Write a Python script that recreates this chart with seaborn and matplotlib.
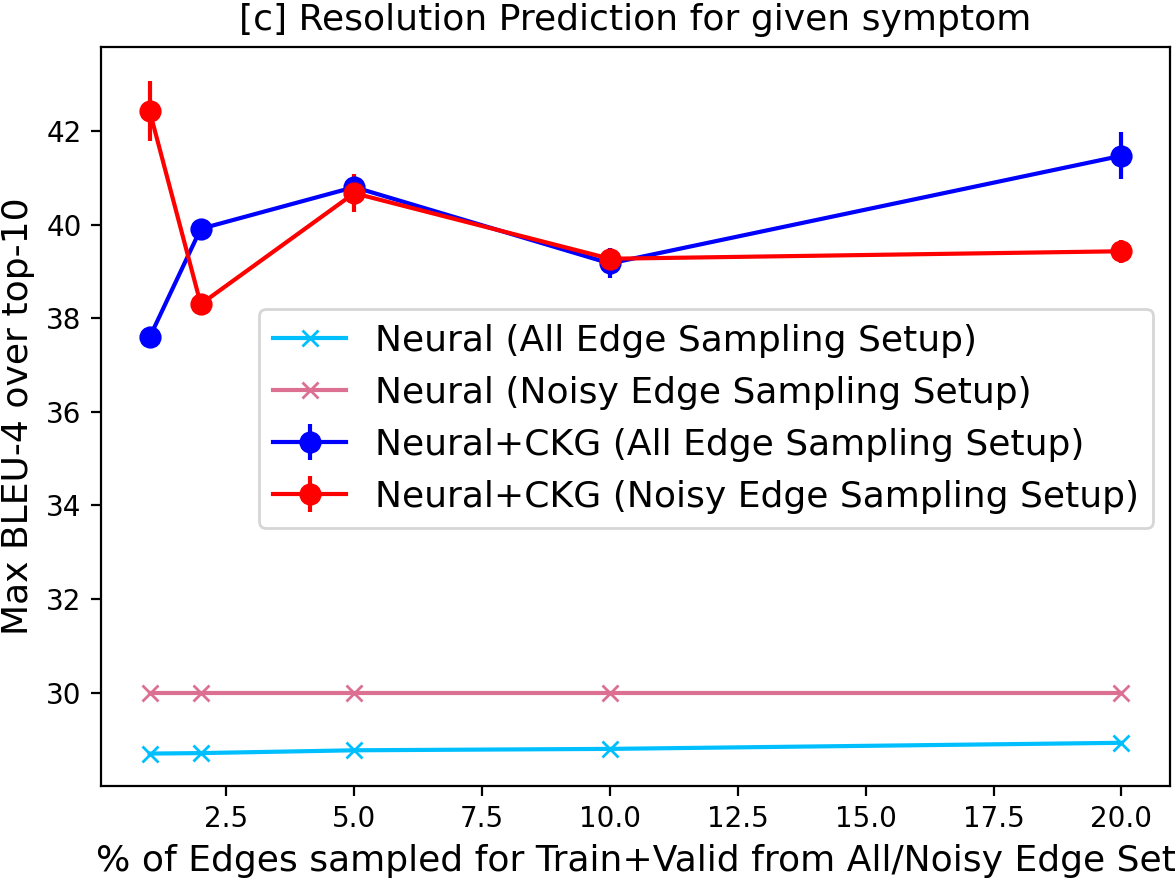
import numpy as np
import pandas as pd
import seaborn as sns
import matplotlib
matplotlib.use("Agg")
import matplotlib.pyplot as plt

pct_edges = [1, 2, 5, 10, 20]
neural_all = [28.70, 28.71, 28.77, 28.80, 28.93]
neural_noisy = [30.0, 30.0, 30.0, 30.0, 30.0]
ckg_all = [37.59, 39.91, 40.80, 39.17, 41.47]
ckg_all_err = [0.05, 0.10, 0.10, 0.32, 0.50]
ckg_noisy = [42.43, 38.30, 40.67, 39.27, 39.43]
ckg_noisy_err = [0.64, 0.10, 0.41, 0.10, 0.25]


def main():
    fig = plt.figure(figsize=(5.88, 4.415), dpi=200)
    ax = fig.add_axes([0.0859, 0.110, 0.909, 0.8366])

    df = pd.DataFrame({"x": pct_edges, "all": neural_all, "noisy": neural_noisy})

    sns.lineplot(data=df, x="x", y="all", ax=ax, color="deepskyblue", marker="x",
                 markersize=6, markeredgecolor="deepskyblue", markeredgewidth=1.0,
                 label="Neural (All Edge Sampling Setup)")
    sns.lineplot(data=df, x="x", y="noisy", ax=ax, color="palevioletred", marker="x",
                 markersize=6, markeredgecolor="palevioletred", markeredgewidth=1.0,
                 label="Neural (Noisy Edge Sampling Setup)")

    ax.errorbar(pct_edges, ckg_all, yerr=ckg_all_err, color="blue", marker="o",
                markersize=7, label="Neural+CKG (All Edge Sampling Setup)")
    ax.errorbar(pct_edges, ckg_noisy, yerr=ckg_noisy_err, color="red", marker="o",
                markersize=7, label="Neural+CKG (Noisy Edge Sampling Setup)")

    ax.set_ylim(28.01, 43.79)
    ax.set_title("[c] Resolution Prediction for given symptom", fontsize=13)
    ax.set_xlabel("% of Edges sampled for Train+Valid from All/Noisy Edge Set", fontsize=13)
    ax.set_ylabel("Max BLEU-4 over top-10", fontsize=13)
    ax.tick_params(labelsize=10)

    ax.legend(loc="center right", fontsize=13, bbox_to_anchor=(1.001, 0.497))

    fig.savefig("out.png", dpi=200)


if __name__ == "__main__":
    main()
